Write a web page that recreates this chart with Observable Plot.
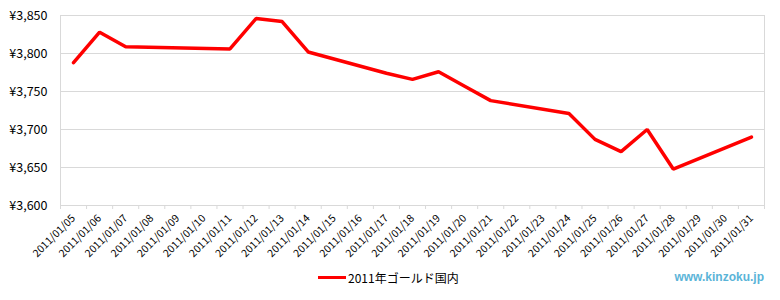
<!DOCTYPE html>
<html>
<head>
<meta charset="utf-8">
<script src="https://cdn.jsdelivr.net/npm/d3@7"></script>
<script src="https://cdn.jsdelivr.net/npm/@observablehq/plot@0.6"></script>
<style>
  body { margin: 0; background: #fff; }
  #wrap { width: 780px; height: 300px; position: relative; background: #fff; }
  #legend { position: relative; width: 780px; height: 38px; }
  #leg-item { position: absolute; left: 318px; top: 7px; display: flex; align-items: center;
    font-family: "Noto Sans CJK JP", "Noto Sans", sans-serif; font-size: 12px; color: #000; }
  #leg-line { width: 28px; height: 3px; background: #ff0000; margin-right: 2px; }
  #brand { position: absolute; right: 16px; top: 8px; font-family: "Liberation Sans", Arial, sans-serif;
    font-weight: bold; font-size: 12px; color: #5ab4d8; }
</style>
</head>
<body>
<div id="wrap">
  <div id="chart"></div>
  <div id="legend">
    <div id="leg-item"><div id="leg-line"></div><span id="leg-text"></span></div>
    <div id="brand"></div>
  </div>
</div>
<script>
const dates = [
  "2011/01/05","2011/01/06","2011/01/07","2011/01/08","2011/01/09","2011/01/10","2011/01/11",
  "2011/01/12","2011/01/13","2011/01/14","2011/01/15","2011/01/16","2011/01/17","2011/01/18",
  "2011/01/19","2011/01/20","2011/01/21","2011/01/22","2011/01/23","2011/01/24","2011/01/25",
  "2011/01/26","2011/01/27","2011/01/28","2011/01/29","2011/01/30","2011/01/31"
];
const tradeDates = [
  "2011/01/05","2011/01/06","2011/01/07","2011/01/11","2011/01/12","2011/01/13","2011/01/14",
  "2011/01/17","2011/01/18","2011/01/19","2011/01/20","2011/01/21","2011/01/24","2011/01/25",
  "2011/01/26","2011/01/27","2011/01/28","2011/01/31"
];
const prices = [
  3788, 3828, 3809, 3806, 3846, 3842, 3802,
  3774, 3766, 3776, 3757, 3738, 3721, 3687,
  3671, 3700, 3648, 3690
];
const yTicks = [3600, 3650, 3700, 3750, 3800, 3850];
const seriesName = "2011年ゴールド国内";
const brandText = "www.kinzoku.jp";

const idx = new Map(dates.map((d, i) => [d, i]));
const data = tradeDates.map((d, i) => ({pos: idx.get(d) + 0.5, price: prices[i]}));

const grid = "#d9d9d9";
const chart = Plot.plot({
  width: 780,
  height: 262,
  marginTop: 15,
  marginBottom: 57,
  marginLeft: 60,
  marginRight: 16,
  style: {fontFamily: "'Noto Sans CJK JP', 'Noto Sans', sans-serif", fontSize: "10px", color: "#000", background: "#fff"},
  x: {type: "linear", domain: [0, dates.length], label: null},
  y: {domain: [3600, 3850], label: null},
  marks: [
    Plot.gridY(yTicks, {stroke: grid, strokeOpacity: 1}),
    Plot.ruleX([0, dates.length], {stroke: grid}),
    Plot.ruleY([3600], {stroke: grid}),
    Plot.axisX(d3.range(dates.length + 1), {tickFormat: () => "", tickSize: 4, stroke: grid, label: null}),
    Plot.axisX(dates.map((d, i) => i + 0.5), {
      tickFormat: v => dates[Math.round(v - 0.5)], tickSize: 0, tickRotate: -45, tickPadding: 11,
      fontSize: 10.5, label: null
    }),
    Plot.axisY(yTicks, {tickFormat: v => "¥" + d3.format(",")(v), tickSize: 0, tickPadding: 13, fontSize: 12.5, label: null}),
    Plot.line(data, {x: "pos", y: "price", stroke: "#ff0000", strokeWidth: 3.5, strokeLinejoin: "miter"})
  ]
});
document.getElementById("chart").appendChild(chart);
document.getElementById("leg-text").textContent = seriesName;
document.getElementById("brand").textContent = brandText;
</script>
</body>
</html>
